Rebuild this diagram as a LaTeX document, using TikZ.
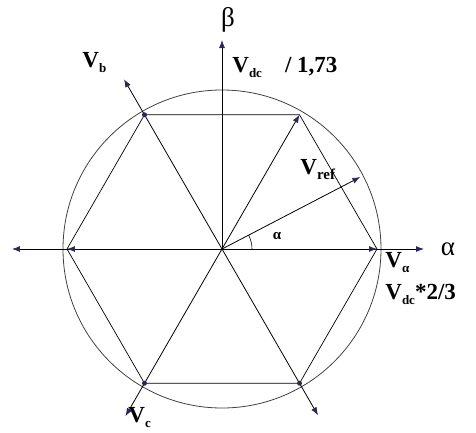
\documentclass[tikz,border=0pt]{standalone}
\usepackage{fontspec}
\setmainfont{Liberation Serif}
\usetikzlibrary{arrows.meta}

\definecolor{tipblue}{RGB}{40,40,90}
\newcommand{\sub}[1]{\raisebox{-0.5ex}{\fontsize{13}{13}\selectfont #1}}

\begin{document}
\begin{tikzpicture}[x=1pt, y=1pt, line width=0.8pt,
  vec/.style={-{Latex[length=8pt,width=6pt,color=tipblue]}},
  twovec/.style={{Latex[length=8pt,width=6pt,color=tipblue]}-{Latex[length=8pt,width=6pt,color=tipblue]}},
  lbl/.style={font=\fontsize{23}{26}\selectfont\bfseries, inner sep=0pt},
  axlbl/.style={font=\fontsize{27}{30}\selectfont, inner sep=0pt}]
  \useasboundingbox (-222,-183) rectangle (254,249);

  % centre, hexagon corners and tips
  \coordinate (O) at (0,0);
  \foreach \k in {0,...,5}
    \coordinate (v\k) at (60*\k:155);
  \coordinate (bTip) at (120:196);
  \coordinate (cTip) at (240:193);
  \coordinate (dTip) at (300:192);
  \coordinate (aEnd) at (202,0);
  \coordinate (aStart) at (-210,0);
  \coordinate (bEnd) at (0,209);
  \coordinate (ref) at (27.5:156);

  % circle and hexagon
  \draw[black!75] (O) circle (159);
  \draw[line width=0.7pt] (v0) -- (v1) -- (v2) -- (v3) -- (v4) -- (v5) -- cycle;

  % axes
  \draw[twovec] (aStart) -- (aEnd);
  \draw[vec] (O) -- (bEnd);

  % spokes
  \draw[vec] (O) -- (v0);
  \draw[vec] (O) -- (v1);
  \draw[vec] (O) -- (v3);
  \draw[vec] (O) -- (bTip);
  \draw[vec] (O) -- (cTip);
  \draw[vec] (O) -- (dTip);
  \foreach \k in {2,4,5}
    \fill[tipblue] (v\k) circle (2.5pt);

  % reference vector and angle
  \draw[vec] (O) -- (ref);
  \draw[line width=0.6pt] (30,0) arc (0:27.5:30);
  \node[font=\fontsize{15}{15}\selectfont\bfseries, inner sep=0pt] (ang) at (55,13) {α};

  % labels
  \node[axlbl] (beta) at (6,229) {β};
  \node[axlbl] (alpha) at (226,0) {α};
  \node[lbl, anchor=base west] (vdc) at (10,177) {V\sub{dc}\quad / 1,73};
  \node[lbl, anchor=base west] (vb) at (-140,182) {V\sub{b}};
  \node[lbl, anchor=base west] (vref) at (78,75) {V\sub{\fontsize{15}{15}\selectfont ref}};
  \node[lbl, anchor=base west] (va) at (163,-18) {V\sub{α}};
  \node[lbl, anchor=base west] (vdc2) at (163,-50) {V\sub{dc}*2/3};
  \node[lbl, anchor=base west] (vc) at (-94,-173) {V\sub{c}};
\end{tikzpicture}
\end{document}
